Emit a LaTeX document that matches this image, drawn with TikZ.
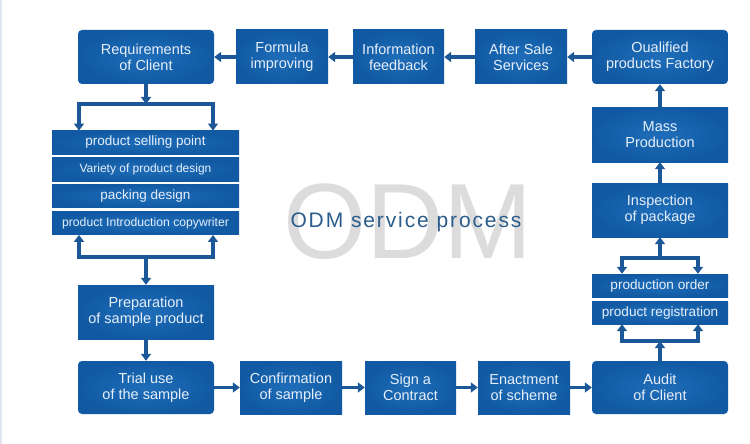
\documentclass[tikz,border=0pt]{standalone}
\usepackage{fontspec}
\setmainfont{Liberation Sans}
\usetikzlibrary{arrows.meta}
\definecolor{boxlight}{HTML}{1F6DB9}
\definecolor{boxedge}{HTML}{115AA3}
\definecolor{arrowblue}{HTML}{1C5897}
\definecolor{txt}{HTML}{E6EFF9}
\definecolor{titleblue}{HTML}{2B5C8C}
\definecolor{bigodm}{HTML}{DCDCDC}
\definecolor{edgeline}{HTML}{DFE7F0}
\begin{document}
\begin{tikzpicture}[x=1pt,y=-1pt,
  box/.style={inner color=boxlight, outer color=boxedge, text=txt, align=center,
    inner sep=0pt, font=\fontsize{14.5}{15.7}\selectfont},
  rbox/.style={box, rounded corners=4pt},
  sbox/.style={box, minimum width=187pt, minimum height=23.5pt},
  pbox/.style={box, minimum width=136pt, minimum height=23pt, font=\fontsize{13.6}{15}\selectfont},
  arr/.style={draw=arrowblue, line width=3.4pt, -{Triangle[width=10pt,length=7pt]}},
  arrtwo/.style={draw=arrowblue, line width=3.4pt, line join=miter,
    {Triangle[width=10pt,length=7pt]}-{Triangle[width=10pt,length=7pt]}}]
\useasboundingbox (0,0) rectangle (750,444);
\fill[white] (0,0) rectangle (750,444);
\draw[edgeline, line width=1.5pt] (1,0) -- (1,444);

% big background text
\node[text=bigodm, font=\fontsize{107}{107}\selectfont, inner sep=0pt] (bigodm) at (408,221.5) {ODM};
\node[text=titleblue, font=\fontsize{21}{24}\selectfont\addfontfeature{LetterSpace=9}, anchor=base, inner sep=0pt] (title) at (406,227) {ODM service process};

% top row
\node[rbox, minimum width=136pt, minimum height=54pt] (req) at (146,57) {Requirements\\of Client};
\node[box, minimum width=92pt, minimum height=54pt] (formula) at (282,57) {Formula\\improving};
\node[box, minimum width=91pt, minimum height=54pt] (info) at (398.5,57) {Information\\feedback};
\node[box, minimum width=92pt, minimum height=54pt] (after) at (521,57) {After Sale\\Services};
\node[rbox, minimum width=136pt, minimum height=54pt] (qual) at (660,57) {Oualified\\products Factory};

% left stack
\node[sbox, font=\fontsize{13.5}{15}\selectfont] (s1) at (145.5,142.5) {product selling point};
\node[sbox, font=\fontsize{12}{14}\selectfont] (s2) at (145.5,169.5) {Variety of product design};
\node[sbox, font=\fontsize{13.5}{15}\selectfont] (s3) at (145.5,196) {packing design};
\node[sbox, font=\fontsize{12.2}{14}\selectfont] (s4) at (145.5,223) {product Introduction copywriter};

\node[box, minimum width=136pt, minimum height=54pt] (prep) at (146,312) {Preparation\\of sample product};

% bottom row
\node[rbox, minimum width=136pt, minimum height=53pt] (trial) at (146,387.5) {Trial use\\of the sample};
\node[box, minimum width=102pt, minimum height=53pt] (confirm) at (291,387.5) {Confirmation\\of sample};
\node[box, minimum width=91pt, minimum height=53pt] (sign) at (410.5,387.5) {Sign a\\Contract};
\node[box, minimum width=92pt, minimum height=53pt] (enact) at (524,387.5) {Enactment\\of scheme};
\node[rbox, minimum width=136pt, minimum height=53pt] (audit) at (660,387.5) {Audit\\of Client};

% right column
\node[pbox] (po) at (660,285.5) {production order};
\node[pbox] (preg) at (660,312.5) {product registration};
\node[box, minimum width=136pt, minimum height=54pt] (insp) at (660,210) {Inspection\\of package};
\node[box, minimum width=136pt, minimum height=55pt] (mass) at (660,134.5) {Mass\\Production};

% fork coordinates
\coordinate (lt) at (146,104);
\coordinate (ltl) at (79,104);
\coordinate (ltr) at (213,104);
\coordinate (lb) at (146,257);
\coordinate (lbl) at (79,257);
\coordinate (lbr) at (213,257);
\coordinate (rt) at (660,258);
\coordinate (rtl) at (622,258);
\coordinate (rtr) at (698,258);
\coordinate (rb) at (660,341);
\coordinate (rbl) at (622,341);
\coordinate (rbr) at (698,341);

% top row arrows
\draw[arr] (formula) -- (req);
\draw[arr] (info) -- (formula);
\draw[arr] (after) -- (info);
\draw[arr] (qual) -- (after);

% left column
\draw[arr] (req) -- (lt);
\draw[arrtwo] (s1.north -| ltl) -- (ltl) -- (ltr) -- (s1.north -| ltr);
\draw[arrtwo] (s4.south -| lbl) -- (lbl) -- (lbr) -- (s4.south -| lbr);
\draw[arr] (lb) -- (prep);
\draw[arr] (prep) -- (trial);

% bottom row arrows
\draw[arr] (trial) -- (confirm);
\draw[arr] (confirm) -- (sign);
\draw[arr] (sign) -- (enact);
\draw[arr] (enact) -- (audit);

% right column arrows
\draw[arr] (audit) -- (rb);
\draw[arrtwo] (preg.south -| rbl) -- (rbl) -- (rbr) -- (preg.south -| rbr);
\draw[arrtwo] (po.north -| rtl) -- (rtl) -- (rtr) -- (po.north -| rtr);
\draw[arr] (rt) -- (insp);
\draw[arr] (insp) -- (mass);
\draw[arr] (mass) -- (qual);
\end{tikzpicture}
\end{document}
